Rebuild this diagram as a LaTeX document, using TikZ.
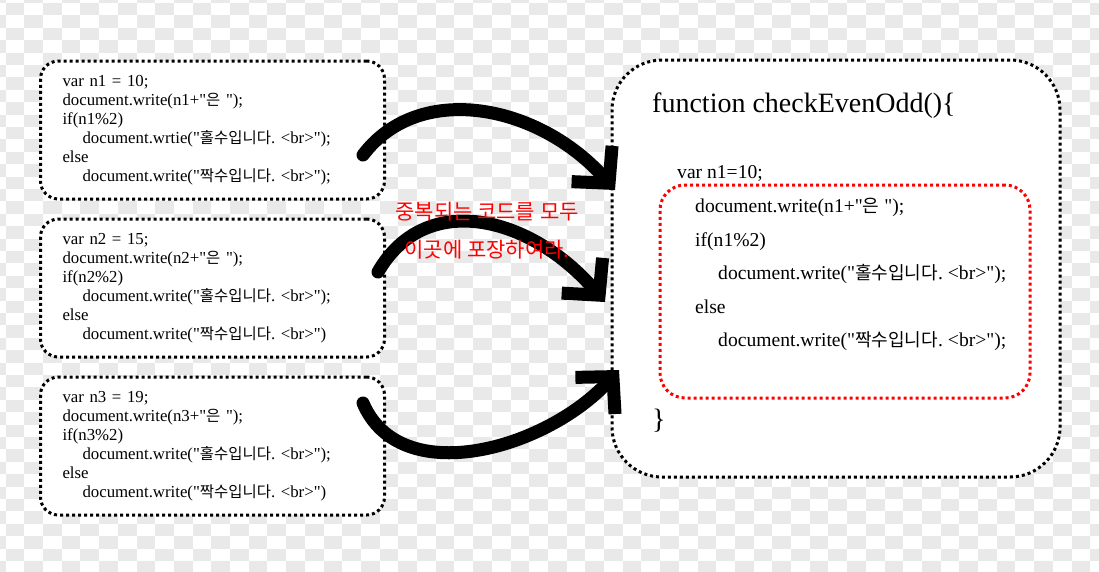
\documentclass[tikz,border=0pt]{standalone}
\usepackage{fontspec}
\setmainfont{Liberation Serif}
\newfontfamily\codefont{Liberation Serif}
\newfontfamily\krfont{Noto Sans CJK KR}[Scale=0.92]
\newfontfamily\hintfont{Noto Sans CJK KR}
\newcommand{\kr}[1]{{\krfont #1}}
\usepackage{tikz}
\usetikzlibrary{arrows.meta,positioning}
\definecolor{CheckGray}{HTML}{E9E9E9}
\definecolor{HintRed}{HTML}{FF0000}
\frenchspacing

\begin{document}
\begin{tikzpicture}[x=1pt,y=-1pt,>=Latex,
  dotbox/.style={draw,line width=3pt,dash pattern=on 3pt off 3pt,fill=white,outer sep=0pt},
  codebox/.style={dotbox,rounded corners=18pt,align=left,text width=300pt,inner xsep=22pt,
    inner ysep=0pt,minimum height=138pt,font=\codefont\fontsize{16.8}{19}\selectfont},
  bigarrow/.style={line width=13pt,line cap=round,-{Straight Barb[length=26pt,width=54pt]}}]
  \useasboundingbox (0,0) rectangle (1099,571);
  \begin{scope}
    \clip (0,0) rectangle (1099,571);
    \foreach \i in {0,2,...,60}
      \foreach \j in {0,2,...,48}
        \fill[CheckGray] (-13.1+18.7*\i,-9.4+12.4*\j) rectangle +(18.7,12.4);
    \foreach \i in {1,3,...,59}
      \foreach \j in {1,3,...,47}
        \fill[CheckGray] (-13.1+18.7*\i,-9.4+12.4*\j) rectangle +(18.7,12.4);
  \end{scope}

  \node[codebox] (box1) at (212.5,130) {var n1 = 10;\\
    document.write(n1+"\kr{은} ");\\
    if(n1\%2)\\
    \hspace*{20pt}document.wrtie("\kr{홀수입니다}. <br>");\\
    else\\
    \hspace*{20pt}document.write("\kr{짝수입니다}. <br>");};
  \node[codebox,below=20pt of box1] (box2) {var n2 = 15;\\
    document.write(n2+"\kr{은} ");\\
    if(n2\%2)\\
    \hspace*{20pt}document.write("\kr{홀수입니다}. <br>");\\
    else\\
    \hspace*{20pt}document.write("\kr{짝수입니다}. <br>")};
  \node[codebox,below=20pt of box2] (box3) {var n3 = 19;\\
    document.write(n3+"\kr{은} ");\\
    if(n3\%2)\\
    \hspace*{20pt}document.write("\kr{홀수입니다}. <br>");\\
    else\\
    \hspace*{20pt}document.write("\kr{짝수입니다}. <br>")};

  \node[dotbox,rounded corners=50pt,minimum width=448pt,minimum height=417pt] (func) at (836,268.5) {};
  \node[dotbox,draw=HintRed,rounded corners=25pt,minimum width=370pt,minimum height=213pt] (core) at (845,291.5) {};
  \node[anchor=base west,inner sep=0pt,font=\codefont\fontsize{28}{32}\selectfont] (head) at (652,112) {function checkEvenOdd()\{};
  \node[anchor=base west,inner sep=0pt,font=\codefont\fontsize{19.6}{22}\selectfont] (init) at (677,178) {var n1=10;};
  \node[anchor=north west,inner sep=0pt,align=left,font=\codefont\fontsize{19.6}{33.5}\selectfont] (corecode) at (695,198) {document.write(n1+"\kr{은} ");\\
    if(n1\%2)\\
    \hspace*{23pt}document.write("\kr{홀수입니다}. <br>");\\
    else\\
    \hspace*{23pt}document.write("\kr{짝수입니다}. <br>");};
  \node[anchor=base west,inner sep=0pt,font=\codefont\fontsize{28}{32}\selectfont] (tail) at (652,428) {\}};

  \coordinate (a1s) at (363,155);
  \coordinate (a1e) at (615,190);
  \coordinate (a2s) at (378,272);
  \coordinate (a2e) at (605,302);
  \coordinate (a3s) at (363,403);
  \coordinate (a3e) at (619,370);
  \draw[bigarrow] (a1s) .. controls (420,80) and (540,105) .. (a1e);
  \draw[bigarrow] (a2s) .. controls (425,190) and (530,215) .. (a2e);
  \draw[bigarrow] (a3s) .. controls (400,490) and (545,450) .. (a3e);

  \node[align=center,text=HintRed,font=\hintfont\fontsize{21}{38}\selectfont] (hint) at (487,231) {중복되는 코드를 모두\\이곳에 포장하여라.};
\end{tikzpicture}
\end{document}
